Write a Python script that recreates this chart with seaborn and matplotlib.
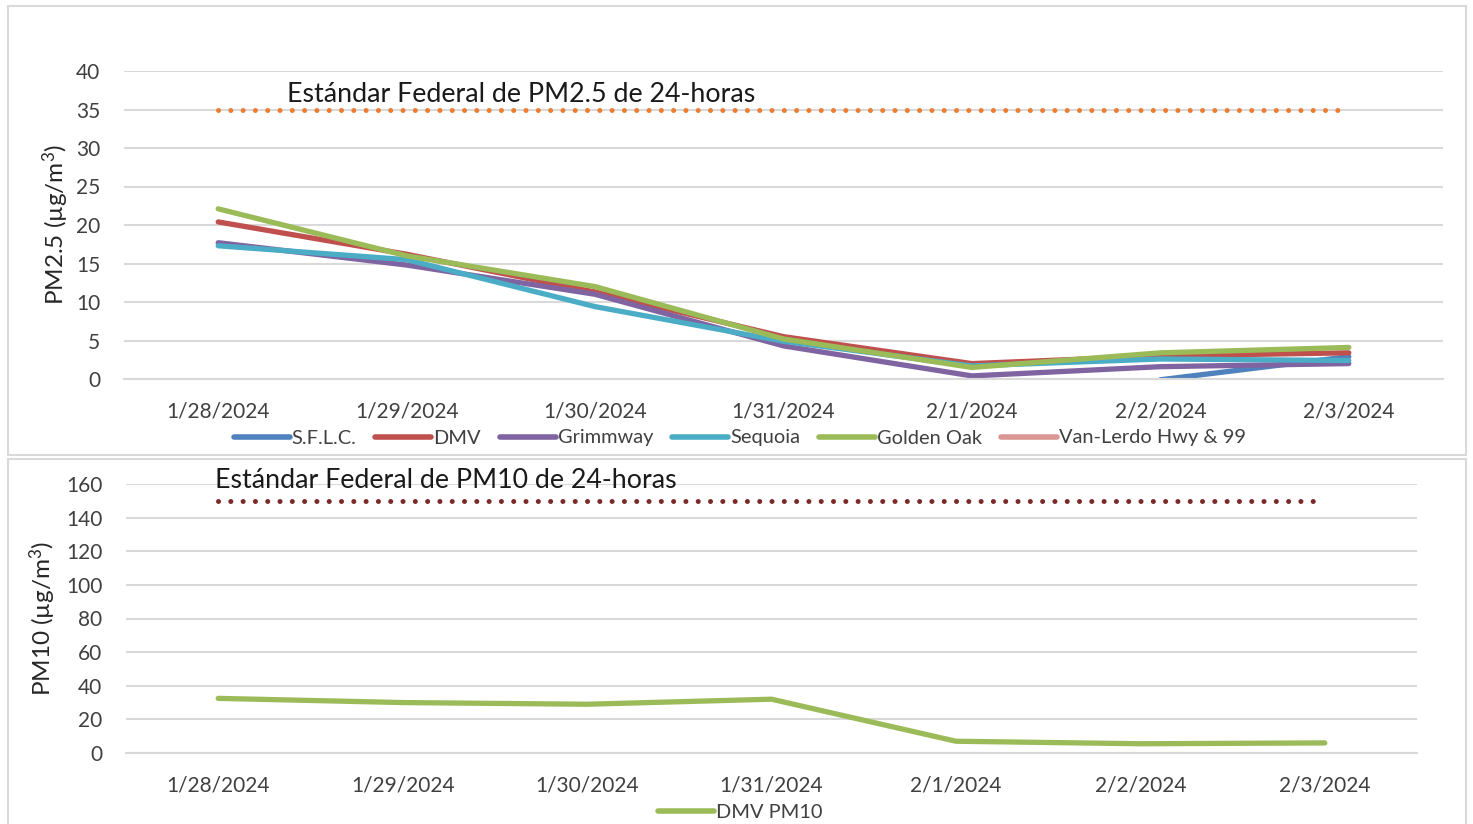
import numpy as np
import pandas as pd
import matplotlib
matplotlib.use("Agg")
import matplotlib.pyplot as plt
from matplotlib.lines import Line2D
from matplotlib.patches import Rectangle
import seaborn as sns

dates = ['1/28/2024', '1/29/2024', '1/30/2024', '1/31/2024', '2/1/2024', '2/2/2024', '2/3/2024']
sites = ['S.F.L.C.', 'DMV', 'Grimmway', 'Sequoia', 'Golden Oak', 'Van-Lerdo Hwy & 99']
nan = np.nan
sflc = [nan, nan, nan, nan, nan, -0.1, 2.9]
dmv = [20.4, 16.2, 11.3, 5.5, 2.0, 3.0, 3.4]
grimmway = [17.7, 14.8, 11.0, 4.3, 0.4, 1.6, 2.0]
sequoia = [17.3, 15.5, 9.4, 4.9, 1.7, 2.6, 2.4]
golden_oak = [22.1, 16.0, 12.0, 5.2, 1.5, 3.4, 4.1]
van_lerdo = [nan, nan, nan, nan, nan, nan, nan]
pm25_std = 35
dmv_pm10 = [32.5, 30.0, 29.0, 32.0, 7.0, 5.5, 6.0]
pm10_std = 150

colors = ['#4F81BD', '#C0504D', '#8064A2', '#4BACC6', '#9BBB59', '#D99694']

sns.set_theme(style="white")
plt.rcParams['font.family'] = ['Lato', 'DejaVu Sans']
plt.rcParams['mathtext.fontset'] = 'custom'
plt.rcParams['mathtext.rm'] = 'Lato'
plt.rcParams['mathtext.it'] = 'Lato'

fig = plt.figure(figsize=(14.73, 8.24), dpi=100)
W, H = 1473, 824

# panel borders
for (x0, y0, x1, y1) in [(8, 6, 1466, 455), (8, 459, 1466, 830)]:
    fig.add_artist(Rectangle((x0 / W, 1 - y1 / H), (x1 - x0) / W, (y1 - y0) / H,
                             transform=fig.transFigure, fill=False,
                             edgecolor='#d9d9d9', linewidth=1.5))

ax1 = fig.add_axes([124 / W, 1 - 379 / H, (1443 - 124) / W, (379 - 71) / H])
ax2 = fig.add_axes([126 / W, 1 - 753 / H, (1417 - 126) / W, (753 - 484) / H])

idx = np.arange(len(dates))
series = [sflc, dmv, grimmway, sequoia, golden_oak, van_lerdo]
df = pd.DataFrame({
    'x': np.tile(idx, len(sites)),
    'site': np.repeat(sites, len(dates)),
    'value': np.concatenate([np.array(s, dtype=float) for s in series]),
})
pal = dict(zip(sites, colors))
sns.lineplot(data=df.dropna(), x='x', y='value', hue='site', palette=pal,
             hue_order=sites, linewidth=3.8, legend=False, ax=ax1, sort=False,
             solid_capstyle='round', solid_joinstyle='round')
ax1.plot(idx, [pm25_std] * len(idx), color='#ED7D31', linestyle=(0, (0.01, 2.45)),
         linewidth=3.6, dash_capstyle='round')

df10 = pd.DataFrame({'x': idx, 'value': dmv_pm10})
sns.lineplot(data=df10, x='x', y='value', color='#9BBB59', linewidth=3.8, ax=ax2,
             solid_capstyle='round', solid_joinstyle='round')
ax2.plot(idx, [pm10_std] * len(idx), color='#7B2A2A', linestyle=(0, (0.01, 2.45)),
         linewidth=3.6, dash_capstyle='round')

for ax, ymax, step in [(ax1, 40, 5), (ax2, 160, 20)]:
    ax.set_xlim(-0.5, len(dates) - 0.5)
    ax.set_ylim(0, ymax)
    ax.set_yticks(np.arange(0, ymax + 1, step))
    ax.set_xticks(idx)
    ax.set_xticklabels(dates)
    ax.set_xticks(np.arange(-0.5, len(dates), 1), minor=True)
    ax.tick_params(axis='x', which='major', length=0, pad=16, labelsize=15, labelcolor='#404040')
    ax.tick_params(axis='x', which='minor', length=8, width=1.5, color='#d9d9d9', direction='out')
    ax.tick_params(axis='y', length=0, pad=17, labelsize=15, labelcolor='#404040')
    ax.grid(axis='y', color='#d9d9d9', linewidth=1.5)
    ax.set_axisbelow(True)
    for s in ['left', 'right', 'top']:
        ax.spines[s].set_visible(False)
    ax.spines['bottom'].set_color('#d9d9d9')
    ax.spines['bottom'].set_linewidth(1.5)
    ax.set_xlabel('')

ax1.set_ylabel(r'PM2.5 (µg/m$^3$)', fontsize=17.5, color='#262626')
ax1.yaxis.set_label_coords(-0.040, 0.5)
ax2.set_ylabel(r'PM10 (µg/m$^3$)', fontsize=17.5, color='#262626')
ax2.yaxis.set_label_coords(-0.0525, 0.5)

ax1.text(0.365, 36.9, 'Estándar Federal de PM2.5 de 24-horas', fontsize=19.3,
         color='#1a1a1a', va='center', ha='left')
ax2.text(-0.017, 162, 'Estándar Federal de PM10 de 24-horas', fontsize=19.3,
         color='#1a1a1a', va='center', ha='left', clip_on=False)

handles = [Line2D([], [], color=c, linewidth=4, solid_capstyle='round') for c in colors]
fig.legend(handles, sites, loc='center', bbox_to_anchor=(740 / W, 1 - 438 / H),
           ncol=6, frameon=False, fontsize=14.4, handlelength=2.8,
           handletextpad=0.1, columnspacing=0.95, labelcolor='#404040')
fig.legend([Line2D([], [], color='#9BBB59', linewidth=4, solid_capstyle='round')],
           ['DMV PM10'], loc='center', bbox_to_anchor=(740 / W, 1 - 812 / H),
           frameon=False, fontsize=14.4, handlelength=2.8, handletextpad=0.1,
           labelcolor='#404040')

fig.savefig('out.png', dpi=100)
